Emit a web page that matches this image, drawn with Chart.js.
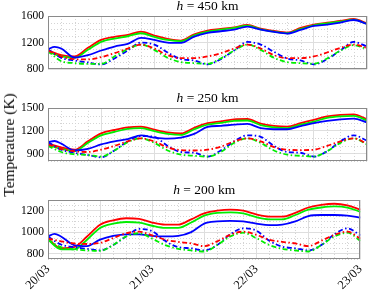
<!DOCTYPE html>
<html>
<head>
<meta charset="utf-8">
<script src="https://cdn.jsdelivr.net/npm/chart.js@4.4.1/dist/chart.umd.min.js"></script>
<style>
  body { margin: 0; background: #fff; }
  #wrap { position: relative; width: 374px; height: 293px; overflow: hidden; }
  canvas { position: absolute; left: 0; }
  #ylab { position: absolute; left: 9px; top: 145px; transform: translate(-50%, -50%) rotate(-90deg);
          white-space: nowrap; font: 15.5px "Liberation Serif", serif; color: #000; }
</style>
</head>
<body>
<div id="wrap">
  <canvas id="c1" width="374" height="80" style="top:0"></canvas>
  <canvas id="c2" width="374" height="80" style="top:92px"></canvas>
  <canvas id="c3" width="374" height="109" style="top:184px"></canvas>
  <div id="ylab">Temperature (K)</div>
</div>
<script>
// hours since 20/03 00:00
const hours = [0, 3, 6, 9, 12, 15, 18, 21, 24, 27, 30, 33, 36, 39, 42, 45, 48, 51, 54, 57, 60, 63, 66, 69, 72];
const hoursB = [0, 1.5, 3, 6, 9, 12, 15, 18, 21, 24, 27, 30, 33, 36, 39, 42, 45, 48, 51, 54, 57, 60, 63, 66, 69, 72];
const dayLabels = ['20/03', '21/03', '22/03', '23/03'];

// h = 450 km
const h450RedSolid   = [1080, 1010, 990, 1120, 1240, 1285, 1315, 1365, 1305, 1255, 1230, 1325, 1380, 1405, 1430, 1465, 1410, 1375, 1350, 1420, 1470, 1500, 1525, 1555, 1490];
const h450GreenSolid = [1060, 990, 970, 1090, 1210, 1260, 1295, 1340, 1285, 1240, 1220, 1310, 1365, 1395, 1420, 1455, 1400, 1365, 1340, 1405, 1460, 1490, 1515, 1545, 1480];
const h450BlueSolid  = [1100, 1135, 1110, 975, 1010, 1080, 1140, 1180, 1270, 1240, 1200, 1195, 1290, 1345, 1370, 1395, 1440, 1395, 1360, 1335, 1390, 1450, 1470, 1500, 1540, 1480];
const h450RedDash    = [1080, 990, 950, 945, 980, 1040, 1110, 1170, 1110, 1010, 965, 965, 990, 1040, 1110, 1170, 1110, 1010, 965, 965, 990, 1050, 1120, 1170, 1120];
const h450GreenDash  = [1070, 920, 890, 880, 880, 990, 1100, 1170, 1090, 970, 905, 890, 880, 960, 1080, 1170, 1090, 970, 905, 890, 880, 960, 1080, 1160, 1100];
const h450BlueDash   = [1100, 970, 930, 900, 870, 960, 1080, 1200, 1170, 1050, 950, 930, 870, 950, 1080, 1210, 1170, 1060, 960, 930, 870, 950, 1080, 1210, 1140];

// h = 250 km
const h250RedSolid   = [1030, 980, 950, 1060, 1165, 1210, 1245, 1255, 1215, 1180, 1165, 1240, 1300, 1325, 1350, 1355, 1295, 1265, 1255, 1300, 1345, 1390, 1410, 1415, 1350];
const h250GreenSolid = [1010, 960, 930, 1040, 1140, 1185, 1225, 1235, 1195, 1160, 1145, 1220, 1280, 1305, 1330, 1335, 1275, 1245, 1235, 1280, 1320, 1370, 1390, 1395, 1335];
const h250BlueSolid  = [1050, 1065, 1030, 940, 960, 1020, 1060, 1090, 1140, 1110, 1095, 1110, 1160, 1250, 1265, 1280, 1290, 1235, 1220, 1220, 1260, 1300, 1330, 1350, 1360, 1310];
const h250RedDash    = [1020, 960, 930, 920, 950, 1000, 1060, 1100, 1060, 980, 945, 940, 950, 990, 1060, 1100, 1060, 985, 950, 945, 950, 1000, 1060, 1100, 1030];
const h250GreenDash  = [1000, 920, 890, 880, 860, 940, 1050, 1100, 1040, 940, 885, 870, 860, 920, 1040, 1100, 1040, 940, 885, 870, 860, 930, 1040, 1100, 1020];
const h250BlueDash   = [1050, 950, 910, 880, 850, 940, 1060, 1130, 1120, 1000, 920, 910, 860, 940, 1060, 1140, 1120, 1000, 920, 910, 860, 930, 1060, 1140, 1070];

// h = 200 km
const h200RedSolid   = [940, 850, 860, 960, 1070, 1110, 1130, 1125, 1090, 1070, 1070, 1120, 1175, 1200, 1210, 1200, 1165, 1145, 1145, 1180, 1230, 1255, 1265, 1250, 1210];
const h200GreenSolid = [930, 840, 840, 930, 1040, 1080, 1095, 1090, 1060, 1040, 1040, 1090, 1155, 1180, 1185, 1175, 1140, 1120, 1120, 1160, 1210, 1230, 1240, 1230, 1190];
const h200BlueSolid  = [960, 985, 960, 880, 870, 930, 965, 980, 980, 965, 960, 965, 1000, 1080, 1100, 1105, 1100, 1080, 1065, 1070, 1100, 1150, 1160, 1160, 1155, 1135];
const h200RedDash    = [940, 915, 895, 890, 900, 945, 990, 1005, 970, 930, 910, 895, 870, 915, 975, 1005, 975, 930, 910, 895, 870, 920, 975, 1005, 940];
const h200GreenDash  = [930, 860, 840, 830, 825, 880, 960, 990, 940, 880, 845, 830, 820, 880, 960, 995, 945, 880, 845, 830, 820, 880, 960, 995, 920];
const h200BlueDash   = [960, 885, 860, 845, 830, 880, 960, 1030, 1010, 920, 860, 850, 830, 880, 980, 1035, 1015, 920, 865, 850, 830, 880, 980, 1035, 970];

const serif = '"Liberation Serif", "DejaVu Serif", serif';
const dashDot = [5, 2.5, 1.5, 2.5];

function pts(xs, ys) {
    return ys.map((y, i) => ({ x: xs[i], y: y }));
}

// minor grid, box and title (italic h)
const decor = {
    id: 'decor',
    beforeDatasetsDraw(chart, args, opts) {
        const ctx = chart.ctx, a = chart.chartArea;
        const xs = chart.scales.x, ys = chart.scales.y;
        ctx.save();
        ctx.strokeStyle = '#d4d4d4';
        ctx.lineWidth = 1;
        ctx.setLineDash([1, 2]);
        for (let h = 3; h < 72; h += 3) {
            if (h % 12 === 0) continue;
            const px = Math.round(xs.getPixelForValue(h)) + 0.5;
            ctx.beginPath(); ctx.moveTo(px, a.top); ctx.lineTo(px, a.bottom); ctx.stroke();
        }
        for (let v = opts.yMin; v <= opts.yMax; v += opts.minorStep) {
            if (opts.yMajor.includes(v)) continue;
            const py = Math.round(ys.getPixelForValue(v)) + 0.5;
            ctx.beginPath(); ctx.moveTo(a.left, py); ctx.lineTo(a.right, py); ctx.stroke();
        }
        ctx.restore();
    },
    afterDraw(chart, args, opts) {
        const ctx = chart.ctx, a = chart.chartArea;
        ctx.save();
        ctx.strokeStyle = '#8a8a8a';
        ctx.lineWidth = 1;
        ctx.strokeRect(Math.round(a.left) + 0.5, Math.round(a.top) + 0.5, Math.round(a.right - a.left) - 1, Math.round(a.bottom - a.top) - 1);
        // title
        const fi = 'italic 13.5px ' + serif, fr = '13.5px ' + serif;
        const rest = ' = ' + opts.km + ' km';
        ctx.font = fi; const w1 = ctx.measureText('h').width;
        ctx.font = fr; const w2 = ctx.measureText(rest).width;
        let x0 = (a.left + a.right) / 2 - (w1 + w2) / 2;
        const y0 = a.top - 6;
        ctx.fillStyle = '#000';
        ctx.textBaseline = 'alphabetic';
        ctx.font = fi; ctx.fillText('h', x0, y0);
        ctx.font = fr; ctx.fillText(rest, x0 + w1, y0);
        ctx.restore();
    }
};

function makePanel(id, km, s, yMin, yMax, yMajor, minorStep, showX) {
    const datasets = [
        { data: pts(hours, s[3]), borderColor: '#ff0000', borderDash: dashDot },
        { data: pts(hours, s[4]), borderColor: '#00ee00', borderDash: dashDot },
        { data: pts(hours, s[5]), borderColor: '#0000ff', borderDash: dashDot },
        { data: pts(hoursB, s[2]), borderColor: '#0000ff' },
        { data: pts(hours, s[1]), borderColor: '#00ee00' },
        { data: pts(hours, s[0]), borderColor: '#ff0000' }
    ].map(d => Object.assign(d, { borderWidth: 1.8, pointRadius: 0, fill: false, cubicInterpolationMode: 'monotone' }));

    return new Chart(document.getElementById(id), {
        type: 'line',
        data: { datasets: datasets },
        options: {
            responsive: false,
            animation: false,
            layout: { padding: { top: 16, right: 7, left: 0, bottom: showX ? 0 : 4 } },
            plugins: {
                legend: { display: false },
                tooltip: { enabled: false },
                decor: { km: km, yMin: yMin, yMax: yMax, yMajor: yMajor, minorStep: minorStep }
            },
            scales: {
                x: {
                    type: 'linear', min: 0, max: 72,
                    afterBuildTicks: sc => { sc.ticks = [0, 12, 24, 36, 48, 60, 72].map(v => ({ value: v })); },
                    afterFit: sc => { sc.height = showX ? 34 : 0; },
                    grid: { color: '#dedede', drawTicks: false },
                    border: { display: false },
                    ticks: {
                        display: showX, autoSkip: false, minRotation: 45, maxRotation: 45, padding: 3,
                        color: '#000', font: { family: serif, size: 12.5 },
                        callback: v => (v % 24 === 0 ? dayLabels[v / 24] : '')
                    }
                },
                y: {
                    min: yMin, max: yMax,
                    afterBuildTicks: sc => { sc.ticks = yMajor.map(v => ({ value: v })); },
                    afterFit: sc => { sc.width = 48; },
                    grid: { color: '#dedede', drawTicks: false },
                    border: { display: false },
                    ticks: { padding: 4, color: '#000', font: { family: serif, size: 11.5 }, callback: v => String(v) }
                }
            }
        },
        plugins: [decor]
    });
}

makePanel('c1', '450', [h450RedSolid, h450GreenSolid, h450BlueSolid, h450RedDash, h450GreenDash, h450BlueDash], 800, 1600, [800, 1200, 1600], 100, false);
makePanel('c2', '250', [h250RedSolid, h250GreenSolid, h250BlueSolid, h250RedDash, h250GreenDash, h250BlueDash], 800, 1500, [900, 1200, 1500], 100, false);
makePanel('c3', '200', [h200RedSolid, h200GreenSolid, h200BlueSolid, h200RedDash, h200GreenDash, h200BlueDash], 750, 1300, [800, 1000, 1200], 50, true);
</script>
</body>
</html>
